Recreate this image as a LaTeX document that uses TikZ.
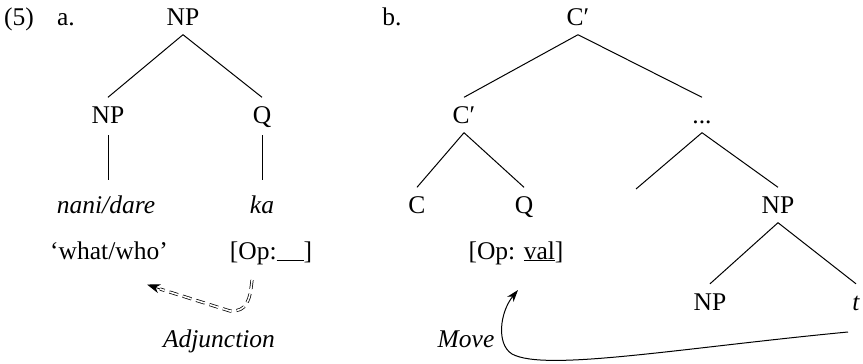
\documentclass[tikz,border=0pt]{standalone}
\usepackage{fontspec}
\setmainfont{Liberation Serif}
\usetikzlibrary{arrows.meta}
\begin{document}
\begin{tikzpicture}[x=1pt,y=-1pt,
  every node/.style={font=\fontsize{25.5}{30}\selectfont},
  lbl/.style={anchor=base,inner sep=0pt},
  tn/.style={anchor=base,text height=17pt,text depth=0pt,inner xsep=0pt,inner ysep=9pt},
  edge/.style={line width=1pt},
  vedge/.style={edge,shorten <=2.5pt,shorten >=7.5pt},
  dbl/.style={line width=0.75pt,double distance=1.6pt,dash pattern=on 9pt off 5pt},
]
\useasboundingbox (0,0) rectangle (863,364);
% labels
\node[lbl] (ex) at (19,25.5) {(5)};
\node[lbl] (la) at (66,25.5) {a.};
\node[lbl] (lb) at (392,25.5) {b.};
% tree a
\node[tn] (npt) at (183,25.5) {NP};
\node[tn] (npa) at (108,123.5) {NP};
\node[tn] (qa) at (262,123.5) {Q};
\node[tn] (nani) at (106,213.5) {\itshape nani/dare};
\node[tn] (ka) at (262,213.5) {\itshape ka};
\node[lbl] (what) at (109,259) {‘what/who’};
\node[lbl] (opa) at (271,259) {[Op:\underline{\hspace{27pt}}]};
\node[lbl] (adj) at (219,347) {\itshape Adjunction};
\draw[edge] (npt.south) -- (npa.north);
\draw[edge] (npt.south) -- (qa.north);
\draw[vedge] (npa.south) -- (npa.south |- nani.north);
\draw[vedge] (qa.south) -- (qa.south |- ka.north);
% adjunction arrow
\coordinate (adjS) at (252,280);
\coordinate (adjM) at (230,311);
\coordinate (adjB) at (160,289);
\coordinate (adjE) at (147,284.5);
\draw[dbl] (adjS) .. controls (250,300) and (247,312) .. (adjM) -- (adjB);
\draw[-{Stealth[length=13pt,width=9pt,inset=4pt]},line width=0.8pt] (adjB) -- (adjE);
% tree b
\node[tn] (ct) at (578,25.5) {C′};
\node[tn] (cm) at (464,123.5) {C′};
\node[tn] (dots) at (702,123.5) {...};
\node[tn] (c) at (417,213.5) {C};
\node[tn] (qb) at (524,213.5) {Q};
\node[tn] (npr) at (778,213.5) {NP};
\node[lbl] (opb) at (516,259) {[Op: \underline{val}]};
\node[tn] (npb) at (710,310) {NP};
\node[tn] (t) at (856,310) {\itshape t};
\node[lbl] (move) at (466,347) {\itshape Move};
\coordinate (dl) at (636,189);
\draw[edge] (ct.south) -- (cm.north);
\draw[edge] (ct.south) -- (dots.north);
\draw[edge] (cm.south) -- (c.north);
\draw[edge] (cm.south) -- (qb.north);
\draw[edge] (dots.south) -- (dl);
\draw[edge] (dots.south) -- (npr.north);
\draw[edge] (npr.south) -- (npb.north);
\draw[edge] (npr.south) -- (t.north);
% move arrow
\coordinate (mvS) at (848,332);
\coordinate (mvE) at (518,290);
\draw[line width=1pt,-{Stealth[length=12pt,width=8pt,inset=3.5pt]}] (mvS) .. controls (680,348) and (545,372) .. (512,354) .. controls (496,344) and (500,312) .. (mvE);
\end{tikzpicture}
\end{document}
